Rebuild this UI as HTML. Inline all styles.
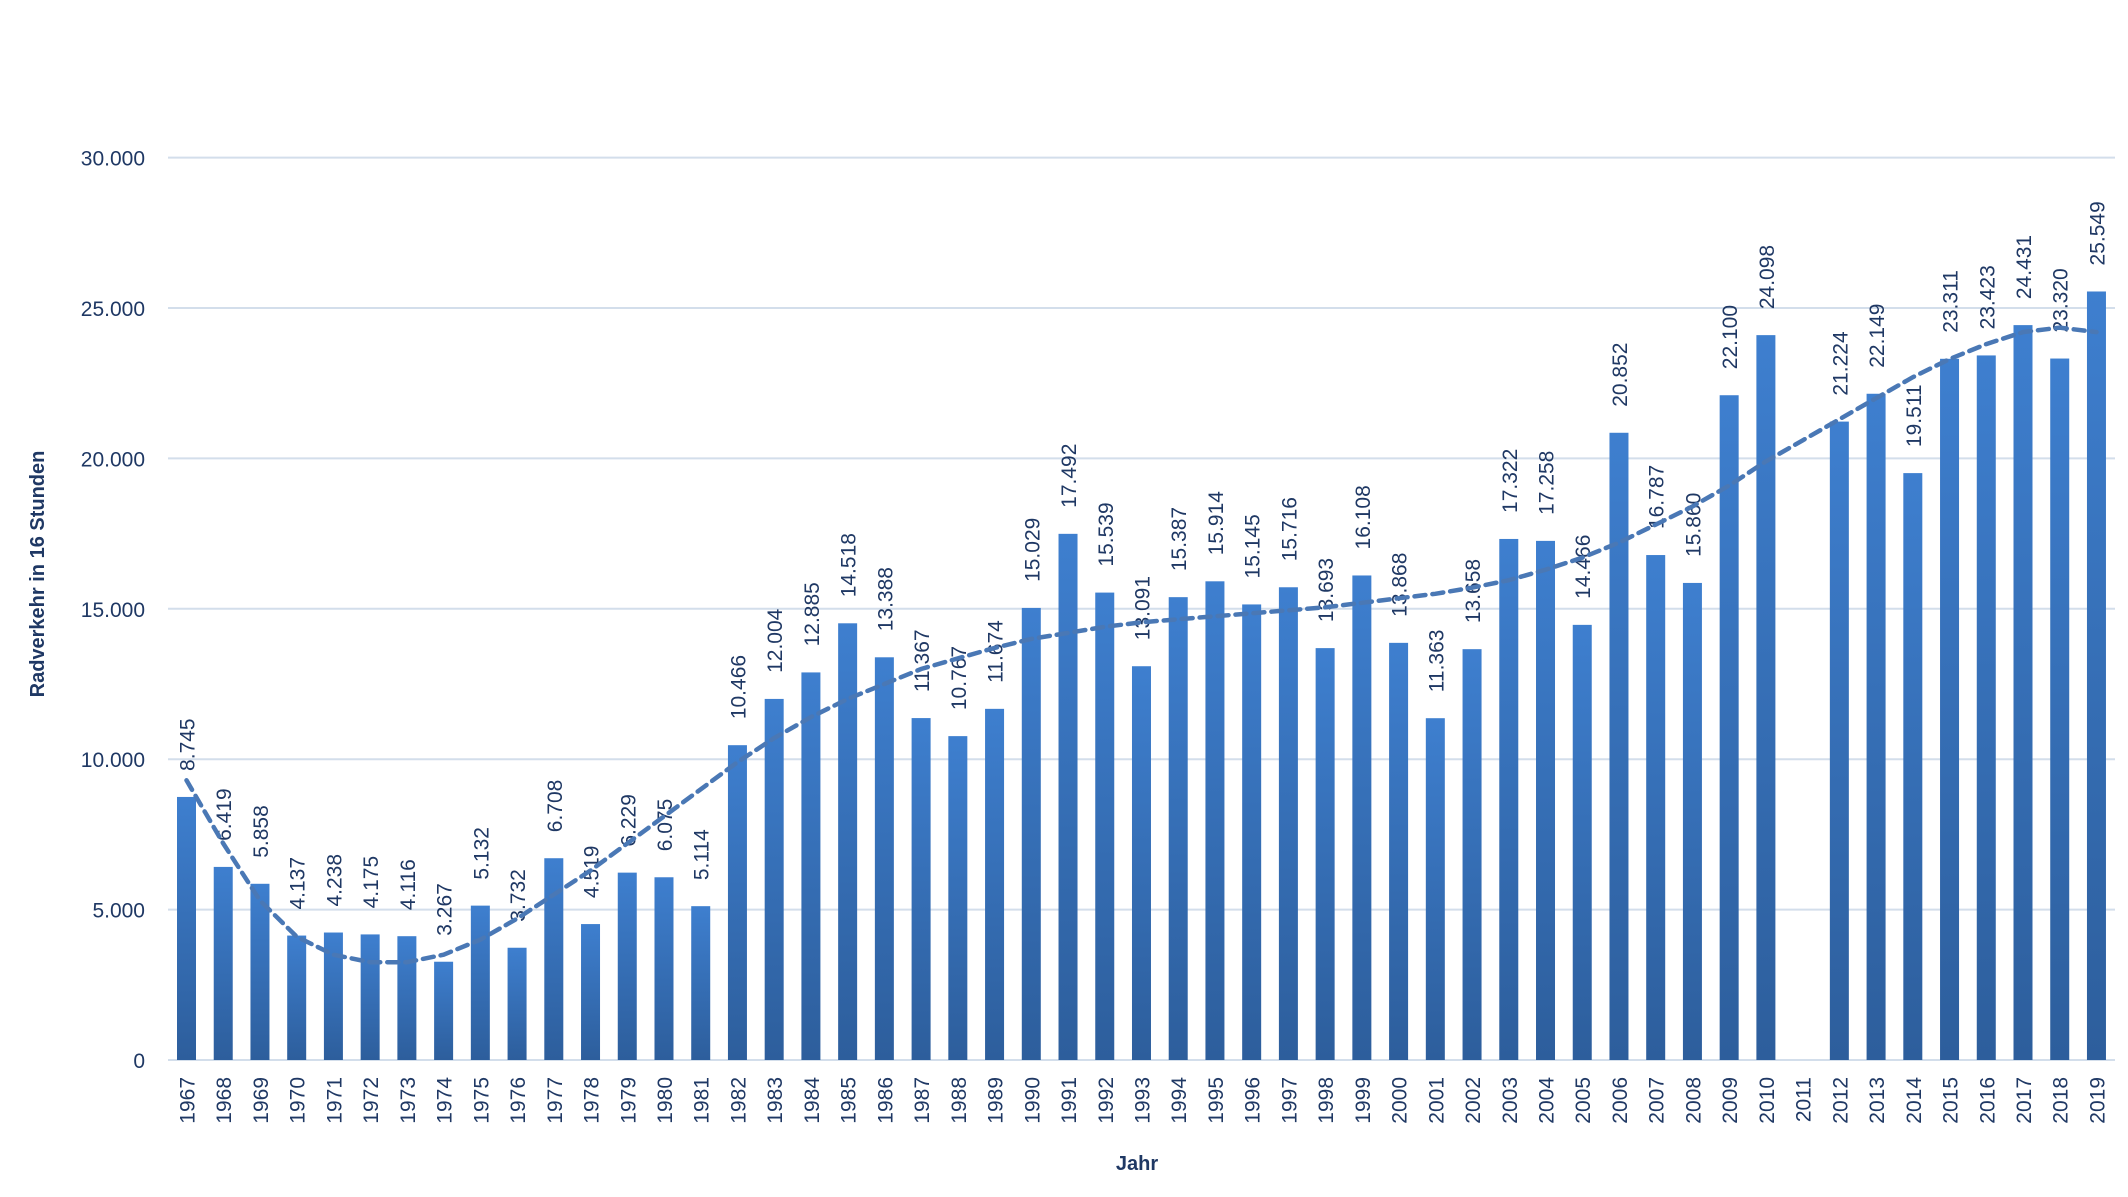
<!DOCTYPE html>
<html><head><meta charset="utf-8"><style>
html,body{margin:0;padding:0;background:#fff;}
svg{display:block;font-family:"Liberation Sans",sans-serif;}
</style></head><body>
<svg id="c" width="2128" height="1197" xmlns="http://www.w3.org/2000/svg">
<defs><linearGradient id="g" x1="0" y1="0" x2="0" y2="1"><stop offset="0" stop-color="#3e7fcf"/><stop offset="1" stop-color="#2d5e9c"/></linearGradient></defs>
<text x="0" y="0" transform="translate(44,574) rotate(-90)" text-anchor="middle" font-size="20" font-weight="bold" fill="#1f3864">Radverkehr in 16 Stunden</text>
<text x="1137" y="1170" text-anchor="middle" font-size="20" font-weight="bold" fill="#1f3864">Jahr</text>
</svg>
<script>
var s=document.getElementById('c'),NS='http://www.w3.org/2000/svg';
function el(t,a,txt){var e=document.createElementNS(NS,t);for(var k in a)e.setAttribute(k,a[k]);if(txt!=null)e.textContent=txt;s.appendChild(e);return e;}
var y0=1060,k=150.4/5000;function Y(v){return y0-v*k;}
for(var i=0;i<=6;i++){var v=i*5000,y=Y(v);el('line',{x1:168,x2:2115,y1:y,y2:y,stroke:'#d3deeb','stroke-width':2});
el('text',{x:145,y:y+8,'text-anchor':'end','font-size':21,fill:'#1f3864'},v==0?'0':(v/1000)+'.000');}
var d=[8745,6419,5858,4137,4238,4175,4116,3267,5132,3732,6708,4519,6229,6075,5114,10466,12004,12885,14518,13388,11367,10767,11674,15029,17492,15539,13091,15387,15914,15145,15716,13693,16108,13868,11363,13658,17322,17258,14466,20852,16787,15860,22100,24098,null,21224,22149,19511,23311,23423,24431,23320,25549];
var t=[9300,7200,5300,4100,3500,3250,3250,3500,4000,4700,5500,6300,7200,8100,9000,9900,10700,11400,12000,12500,13000,13350,13700,14000,14200,14400,14550,14650,14750,14850,14950,15050,15200,15350,15500,15700,15950,16300,16700,17200,17800,18400,19100,19900,20600,21300,22000,22700,23300,23800,24200,24350,24200];
function X(i){return 186.5+i*36.73;}
for(var i=0;i<53;i++){var x=X(i),v=d[i];
if(v!=null){el('rect',{x:x-9.5,y:Y(v),width:19,height:y0-Y(v),fill:'url(#g)'});
var ly=Y(v)-26;var s2=(v/1000).toFixed(3);
el('text',{x:0,y:0,transform:'translate('+(x+8)+','+ly+') rotate(-90)','font-size':21,fill:'#1f3864'},s2);}
el('text',{x:0,y:0,transform:'translate('+(x+8)+',1077) rotate(-90)','text-anchor':'end','font-size':21,fill:'#1f3864'},String(1967+i));}
var p='';for(var i=0;i<53;i++){p+=(i?' L':'M')+X(i).toFixed(1)+' '+Y(t[i]).toFixed(1);}
el('path',{d:p,fill:'none',stroke:'#4a78b5','stroke-width':4.5,'stroke-dasharray':'11 7','stroke-linecap':'round'});
</script>
</body></html>
